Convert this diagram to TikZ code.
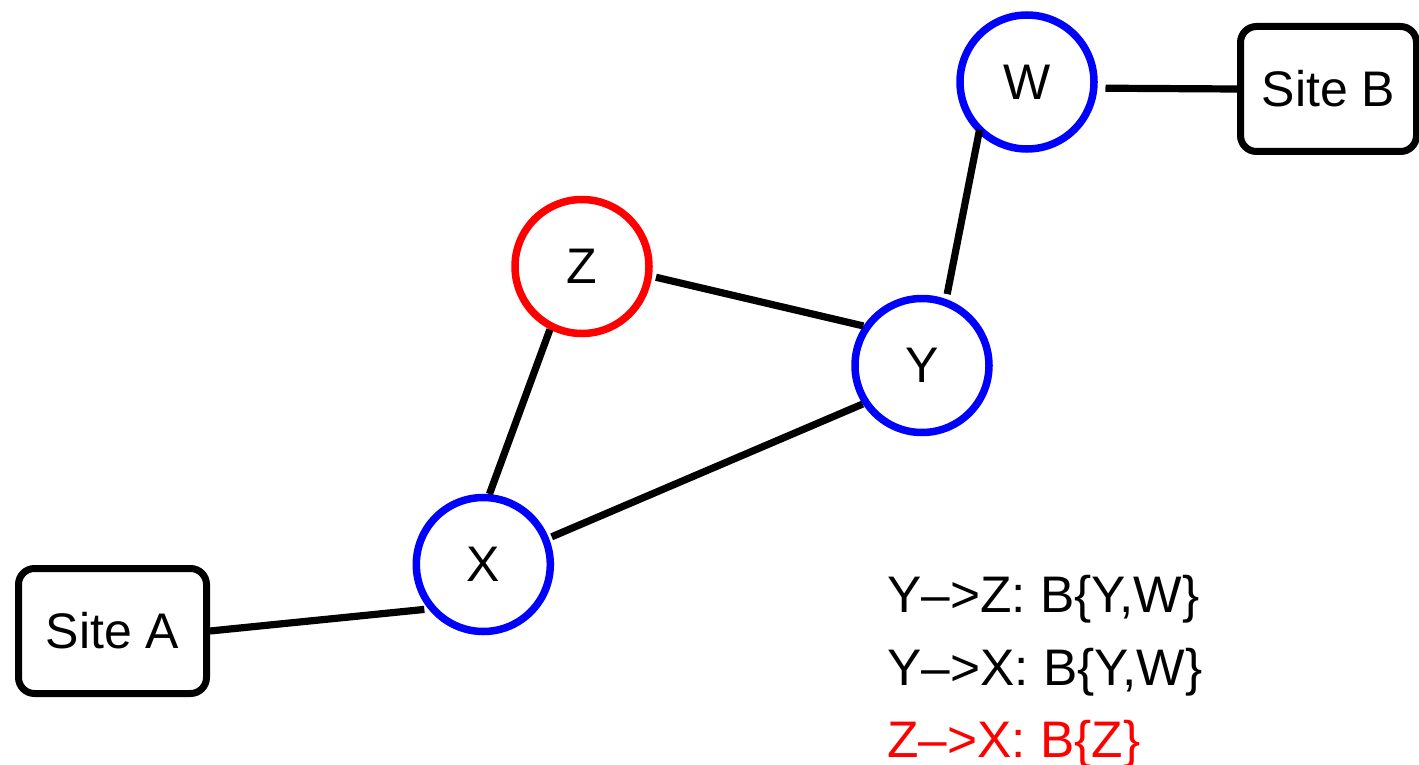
\documentclass[tikz,border=0pt]{standalone}
\usepackage{fontspec}
\setmainfont{Liberation Sans}
\usetikzlibrary{positioning}

\begin{document}
\begin{tikzpicture}[x=0.5pt, y=-0.5pt,
  every node/.style={font=\fontsize{25}{30}\selectfont},
  router/.style={circle, draw=blue, line width=3.75pt, minimum size=67pt, inner sep=0pt},
  site/.style={rectangle, draw=black, line width=3.5pt, rounded corners=8pt, minimum height=62.5pt, inner sep=0pt},
  link/.style={line width=3.6pt},
  route/.style={anchor=base west, inner sep=0pt, font=\fontsize{25.7}{30}\selectfont}]
\useasboundingbox (0,0) rectangle (1419,765);
% Draw the routers
\node[router] (W) at (1027,82) {W};
\node[router, draw=red] (Z) at (582,266.5) {Z};
\node[router] (Y) at (922,365.5) {Y};
\node[router] (X) at (483.3,564.5) {X};

% The two sites
\node[site, minimum width=94pt] (siteA) at (112.5,631) {Site A};
\node[site, minimum width=88pt] (siteB) at (1328.5,89) {Site B};

% Draw the links
\draw[link, shorten >=2pt] (siteA.east) -- (X.219);
\draw[link, shorten <=1.5pt] (X.22) -- (Y.213);
\draw[link] (X.85) -- (Z.243);
\draw[link, shorten <=2pt] (Z.-8) -- (Y.146);
\draw[link, shorten <=2.5pt, shorten >=-2pt] (Y.70) -- (W.227);
\draw[link, shorten <=4pt] (W.-5) -- (siteB.west);

% Route labels
\node[route] (lblYZ) at (887,612) {Y\textendash>Z: B\{Y,W\}};
\node[route] (lblYX) at (887,685) {Y\textendash>X: B\{Y,W\}};
\node[route, red] (lblZX) at (887,757) {Z\textendash>X: B\{Z\}};
\end{tikzpicture}
\end{document}
